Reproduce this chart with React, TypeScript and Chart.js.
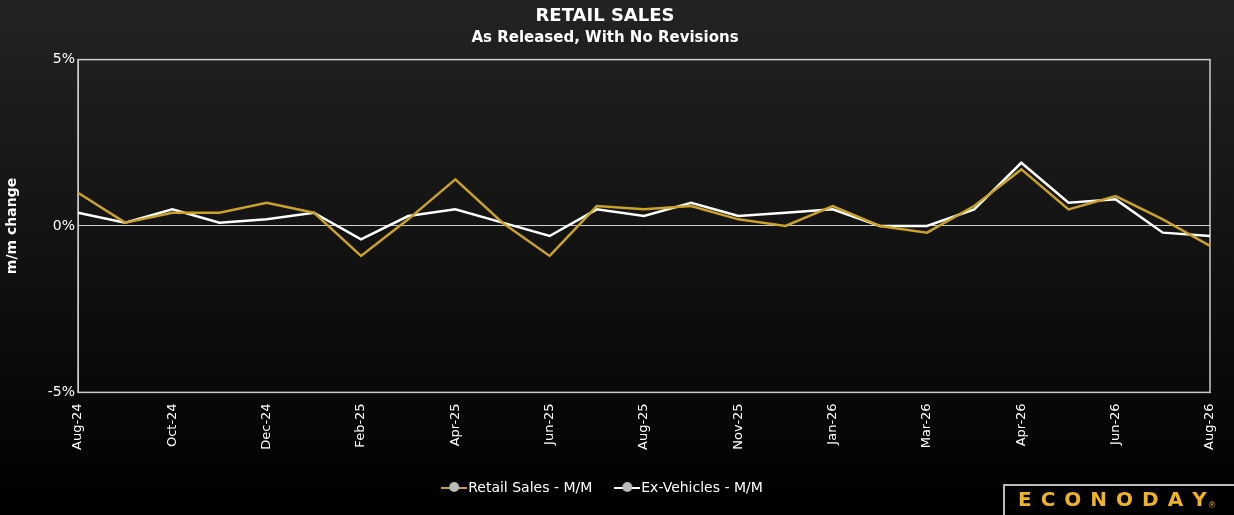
import React, { useEffect, useRef } from "react";
import { Chart, registerables } from "chart.js";
Chart.register(...registerables);

const labels = ["Aug-24","Sep-24","Oct-24","Nov-24","Dec-24","Jan-25","Feb-25","Mar-25","Apr-25","May-25","Jun-25","Jul-25","Aug-25","Oct-25","Nov-25","Dec-25","Jan-26","Feb-26","Mar-26","Mar-26b","Apr-26","May-26","Jun-26","Jul-26","Aug-26"];
const retail = [1.0,0.1,0.4,0.4,0.7,0.4,-0.9,0.2,1.4,0.1,-0.9,0.6,0.5,0.6,0.2,0.0,0.6,0.0,-0.2,0.6,1.7,0.5,0.9,0.2,-0.6];
const exVeh = [0.4,0.1,0.5,0.1,0.2,0.4,-0.4,0.3,0.5,0.1,-0.3,0.5,0.3,0.7,0.3,0.4,0.5,0.0,0.0,0.5,1.9,0.7,0.8,-0.2,-0.3];

function marker(color: string) {
  const c = document.createElement("canvas");
  c.width = 26; c.height = 14;
  const g = c.getContext("2d")!;
  g.strokeStyle = color; g.lineWidth = 2;
  g.beginPath(); g.moveTo(0, 7); g.lineTo(26, 7); g.stroke();
  g.fillStyle = "#bbbbbb";
  g.beginPath(); g.arc(13, 6, 5, 0, Math.PI * 2); g.fill();
  return c;
}

export default function App() {
  const ref = useRef<HTMLCanvasElement>(null);
  useEffect(() => {
    document.body.style.margin = "0";
    const font = "'DejaVu Sans', Verdana, sans-serif";
    const ch = new Chart(ref.current!, {
      type: "line",
      data: {
        labels,
        datasets: [
          { label: "Retail Sales - M/M", data: retail, borderColor: "#c9a227", borderWidth: 2.5, pointRadius: 0, tension: 0, pointStyle: marker("#c9a227") as any },
          { label: "Ex-Vehicles - M/M", data: exVeh, borderColor: "#ffffff", borderWidth: 2.5, pointRadius: 0, tension: 0, pointStyle: marker("#ffffff") as any },
        ],
      },
      options: {
        animation: false,
        responsive: false,
        layout: { padding: { left: 0, right: 24, top: 6, bottom: 10 } },
        plugins: {
          title: { display: true, text: "RETAIL SALES", color: "#fff", font: { family: font, size: 18, weight: "bold" }, padding: { top: 0, bottom: 2 } },
          subtitle: { display: true, text: "As Released, With No Revisions", color: "#fff", font: { family: font, size: 15, weight: "bold" }, padding: { bottom: 12 } },
          legend: { position: "bottom", labels: { usePointStyle: true, color: "#fff", font: { family: font, size: 14 }, padding: 28 } },
          tooltip: { enabled: false },
        },
        scales: {
          x: {
            offset: false,
            grid: { display: false },
            border: { color: "#cccccc" },
            ticks: {
              color: "#fff", font: { family: font, size: 13 }, maxRotation: 90, minRotation: 90, autoSkip: false,
              callback: (v: any, i: number) => (i % 2 ? "" : labels[i]),
            },
          },
          y: {
            min: -5, max: 5,
            afterFit: (s: any) => { s.width = 78; },
            ticks: { stepSize: 5, color: "#fff", font: { family: font, size: 14 }, callback: (v: any) => v + "%" },
            grid: { color: (c: any) => (c.tick.value === 0 ? "#cccccc" : "rgba(0,0,0,0)"), drawTicks: false },
            border: { color: "#cccccc" },
            title: { display: true, text: "m/m change", color: "#fff", font: { family: font, size: 14, weight: "bold" } },
          },
        },
      },
      plugins: [{
        id: "frame",
        beforeDraw(c: any) {
          const g = c.ctx;
          const grd = g.createLinearGradient(0, 0, 0, c.height);
          grd.addColorStop(0, "#232323"); grd.addColorStop(1, "#000");
          g.save(); g.fillStyle = grd; g.fillRect(0, 0, c.width, c.height);
          const a = c.chartArea;
          g.strokeStyle = "#cccccc"; g.lineWidth = 1.5;
          g.strokeRect(a.left, a.top, a.right - a.left, a.bottom - a.top);
          g.restore();
        },
        afterDraw(c: any) {
          const g = c.ctx;
          g.save();
          g.fillStyle = "#000"; g.fillRect(1003, 484, 231, 31);
          g.strokeStyle = "#bbbbbb"; g.lineWidth = 2; g.strokeRect(1004, 485, 232, 32);
          g.fillStyle = "#f0b323"; g.font = "bold 20px 'DejaVu Sans', sans-serif"; g.textBaseline = "middle";
          const t = "ECONODAY"; let x = 1018;
          for (const ch of t) { g.fillText(ch, x, 501); x += g.measureText(ch).width + 9; }
          g.font = "9px sans-serif"; g.fillText("®", x - 7, 506);
          g.restore();
        },
      }],
    });
    return () => ch.destroy();
  }, []);
  return <canvas ref={ref} width={1234} height={515} style={{ display: "block" }} />;
}
